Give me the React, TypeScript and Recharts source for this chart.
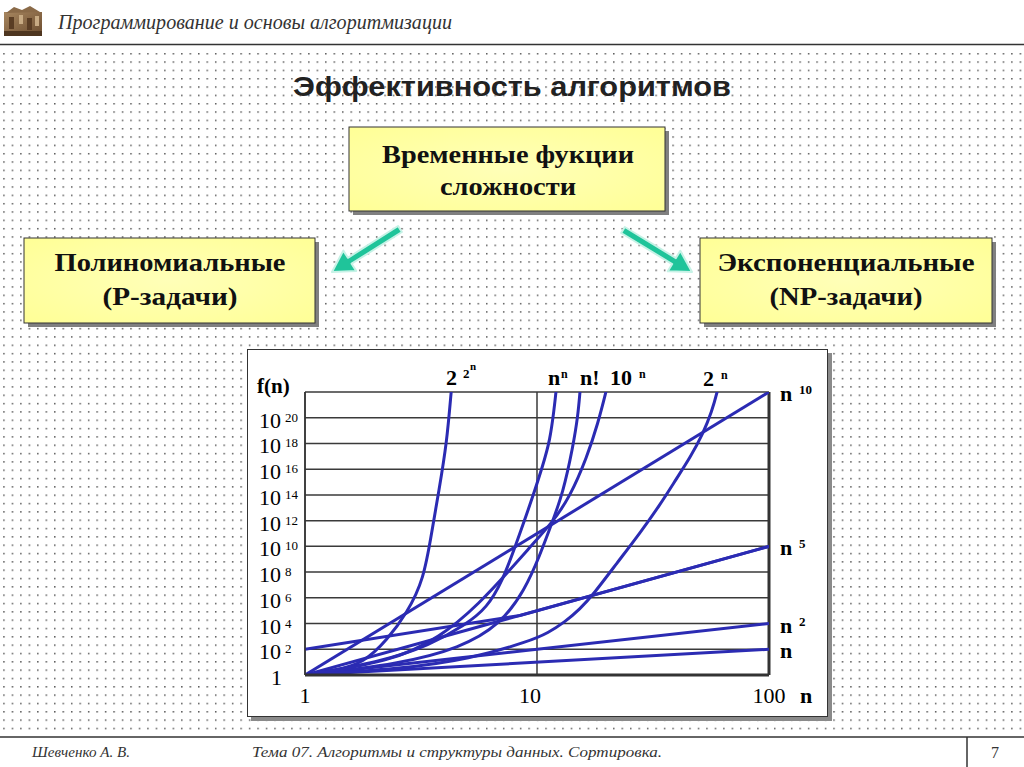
import React from 'react';
import { LineChart, Line, XAxis, YAxis, CartesianGrid, LabelList, ReferenceLine } from 'recharts';

// ---- axis ticks ----
const xTicks = [1, 10, 100];
const xTickLabels = ['1', '10', '100'];
// y values are exponents of 10 (f(n) = 10^e)
const yTicks = [0, 2, 4, 6, 8, 10, 12, 14, 16, 18, 20, 22];

// ---- series: n values and exponents of f(n) ----
const linN = [1, 100];
const linE = [0, 2];
const quadN = [1, 100];
const quadE = [0, 4];
const pow5N = [1, 100];
const pow5E = [0, 10];
const pow5OffsetN = [1, 8.45, 100];
const pow5OffsetE = [2, 4.63, 10];
const pow10N = [1, 100];
const pow10E = [0, 22];
const dblExpN = [1, 1.35, 1.79, 2.26, 2.75, 3.25, 3.53, 3.77, 4.09, 4.26, 4.37];
const dblExpE = [0, 0.35, 0.93, 2.72, 4.82, 7.39, 11.28, 14.23, 18.12, 21.93, 24];
const nPowNN = [1, 2.11, 3.46, 4.9, 6.09, 7.13, 8.04, 9.33, 10.62, 11.38, 11.84, 12.08, 12.25];
const nPowNE = [0, 1.01, 2.33, 3.89, 5.21, 7.39, 9.95, 13.22, 16.33, 18.27, 20.61, 22.0, 23.3];
const factN = [1, 2.57, 4.66, 6.93, 8.87, 10.3, 11.6, 12.94, 14.29, 15.03, 15.31, 15.56];
const factE = [0, 0.86, 2.1, 3.89, 6.61, 9.33, 11.82, 14.15, 17.73, 20.22, 22.0, 23.3];
const tenPowN = [1, 2.32, 3.82, 5.68, 7.65, 9.33, 11.6, 13.87, 16.43, 18.33, 19.82, 20.64];
const tenPowE = [0, 1.01, 2.88, 5.6, 8.17, 9.95, 11.82, 13.84, 16.95, 19.59, 22.0, 23.3];
const twoPowN = [1, 2.57, 5.14, 9.33, 11.15, 13.2, 15.31, 17.42, 22.13, 27.8, 33.88, 40.09, 45.6, 51.9, 56.8, 59.7, 62.1];
const twoPowE = [0, 0.47, 1.24, 2.64, 3.27, 4.12, 5.13, 6.22, 8.71, 11.04, 13.22, 15.32, 16.87, 18.74, 20.53, 21.93, 23.3];

const zip = (ns: number[], es: number[]) => ns.map((n, i) => ({ n, e: es[i] }));

const SERIF = '"Liberation Serif", "Times New Roman", serif';
const SANS = '"Liberation Sans", Arial, sans-serif';
const BLUE = '#2b2bb3';
const GRID = '#3a3a3a';

type Part = { t: string; dx: number; dy: number; size: number };

const labelIndex = (es: number[]) => {
  const i = es.findIndex((v) => v >= 21.9);
  return i < 0 ? es.length - 1 : i;
};

const makeLabel = (parts: Part[], idx: number) => (props: any) => {
  if (props.index !== idx) return null;
  const x = props.x ?? props.viewBox?.x;
  const y = props.y ?? props.viewBox?.y;
  if (x == null || y == null) return null;
  return (
    <g>
      {parts.map((p, i) => (
        <text key={i} x={x + p.dx} y={y + p.dy} fontSize={p.size} fontWeight="bold" fontFamily={SERIF} fill="#000">
          {p.t}
        </text>
      ))}
    </g>
  );
};

const rightParts = (sup: string): Part[] =>
  sup
    ? [
        { t: 'n', dx: 11, dy: 9, size: 22 },
        { t: sup, dx: 30, dy: 2, size: 13 },
      ]
    : [{ t: 'n', dx: 11, dy: 9, size: 22 }];

const series = [
  { key: 'lin', data: zip(linN, linE), type: 'linear', label: makeLabel(rightParts(''), linN.length - 1) },
  { key: 'quad', data: zip(quadN, quadE), type: 'linear', label: makeLabel(rightParts('2'), quadN.length - 1) },
  { key: 'p5', data: zip(pow5N, pow5E), type: 'linear', label: makeLabel(rightParts('5'), pow5N.length - 1) },
  { key: 'p5o', data: zip(pow5OffsetN, pow5OffsetE), type: 'linear', label: null },
  { key: 'p10', data: zip(pow10N, pow10E), type: 'linear', label: makeLabel(rightParts('10'), pow10N.length - 1) },
  {
    key: 'dbl',
    data: zip(dblExpN, dblExpE),
    type: 'basis',
    label: makeLabel(
      [
        { t: '2', dx: -5, dy: -8, size: 22 },
        { t: '2', dx: 12, dy: -15, size: 13 },
        { t: 'n', dx: 19, dy: -23, size: 11 },
      ],
      labelIndex(dblExpE)
    ),
  },
  {
    key: 'nn',
    data: zip(nPowNN, nPowNE),
    type: 'basis',
    label: makeLabel(
      [
        { t: 'n', dx: -8, dy: -7, size: 22 },
        { t: 'n', dx: 5, dy: -14, size: 12 },
      ],
      labelIndex(nPowNE)
    ),
  },
  {
    key: 'fact',
    data: zip(factN, factE),
    type: 'basis',
    label: makeLabel([{ t: 'n!', dx: 0, dy: -7, size: 22 }], labelIndex(factE)),
  },
  {
    key: 'ten',
    data: zip(tenPowN, tenPowE),
    type: 'basis',
    label: makeLabel(
      [
        { t: '10', dx: 4, dy: -7, size: 22 },
        { t: 'n', dx: 33, dy: -14, size: 12 },
      ],
      labelIndex(tenPowE)
    ),
  },
  {
    key: 'two',
    data: zip(twoPowN, twoPowE),
    type: 'basis',
    label: makeLabel(
      [
        { t: '2', dx: -14, dy: -7, size: 22 },
        { t: 'n', dx: 4, dy: -14, size: 12 },
      ],
      labelIndex(twoPowE)
    ),
  },
];

const YTick = (props: any) => {
  const { y, payload } = props;
  const v = payload?.value;
  if (v === 22) {
    return (
      <text x={10} y={y + 1} fontSize={21} fontWeight="bold" fontFamily={SERIF} fill="#000">
        f(n)
      </text>
    );
  }
  if (v === 0) {
    return (
      <text x={35} y={y + 10} fontSize={22} textAnchor="end" fontFamily={SERIF} fill="#000">
        1
      </text>
    );
  }
  return (
    <g>
      <text x={34} y={y + 10} fontSize={22} textAnchor="end" fontFamily={SERIF} fill="#000">
        10
      </text>
      <text x={38} y={y + 4} fontSize={13} fontFamily={SERIF} fill="#000">
        {v}
      </text>
    </g>
  );
};

const XTick = (props: any) => {
  const { x, payload } = props;
  const i = xTicks.indexOf(payload?.value);
  const label = i >= 0 ? xTickLabels[i] : String(payload?.value);
  return (
    <g>
      <text x={i === 1 ? x - 7 : x} y={354} fontSize={22} textAnchor="middle" fontFamily={SERIF} fill="#000">
        {label}
      </text>
      {i === xTicks.length - 1 && (
        <text x={x + 31} y={354} fontSize={22} fontWeight="bold" fontFamily={SERIF} fill="#000">
          n
        </text>
      )}
    </g>
  );
};

function arrowPoints(sx: number, sy: number, tx: number, ty: number, shaft = 3.5, head = 12, headLen = 21) {
  const dx = tx - sx;
  const dy = ty - sy;
  const L = Math.hypot(dx, dy);
  const ux = dx / L;
  const uy = dy / L;
  const px = -uy;
  const py = ux;
  const bx = tx - ux * headLen;
  const by = ty - uy * headLen;
  const pts = [
    [sx + px * shaft, sy + py * shaft],
    [bx + px * shaft, by + py * shaft],
    [bx + px * head, by + py * head],
    [tx, ty],
    [bx - px * head, by - py * head],
    [bx - px * shaft, by - py * shaft],
    [sx - px * shaft, sy - py * shaft],
  ];
  return pts.map((p) => `${p[0].toFixed(1)},${p[1].toFixed(1)}`).join(' ');
}

const YellowBox = ({ x, y, w, h, lines }: { x: number; y: number; w: number; h: number; lines: { t: string; cx: number; by: number; len: number }[] }) => (
  <g>
    <rect x={x + 4} y={y + 4} width={w} height={h} fill="#808080" />
    <rect x={x} y={y} width={w} height={h} fill="url(#yel)" stroke="#333" strokeWidth={1} />
    {lines.map((l, i) => (
      <text
        key={i}
        x={l.cx}
        y={l.by}
        textAnchor="middle"
        fontFamily={SERIF}
        fontWeight="bold"
        fontSize={26}
        fill="#111"
        textLength={l.len}
        lengthAdjust="spacingAndGlyphs"
      >
        {l.t}
      </text>
    ))}
  </g>
);

export default function App() {
  return (
    <div style={{ position: 'absolute', left: 0, top: 0, width: 1024, height: 767, overflow: 'hidden', background: '#fff' }}>
      <svg width={1024} height={767} style={{ position: 'absolute', left: 0, top: 0 }}>
        <defs>
          <pattern id="dots" x={3.2} y={3} width={8.47} height={8.33} patternUnits="userSpaceOnUse">
            <rect x={0} y={0} width={1.5} height={1.5} fill="#5a5a5a" />
          </pattern>
          <radialGradient id="yel" cx="50%" cy="50%" r="70%">
            <stop offset="0%" stopColor="#ffffb8" />
            <stop offset="100%" stopColor="#ffff96" />
          </radialGradient>
          <linearGradient id="brown" x1="0" y1="0" x2="1" y2="1">
            <stop offset="0%" stopColor="#a7865f" />
            <stop offset="100%" stopColor="#6b4c2f" />
          </linearGradient>
        </defs>
        <rect x={0} y={0} width={1024} height={767} fill="#fff" />
        <rect x={0} y={49} width={1024} height={684} fill="url(#dots)" />

        {/* header */}
        <g>
          <rect x={4} y={12} width={38} height={24} fill="url(#brown)" />
          <polygon points="6,13 14,7 22,10 30,6 40,12" fill="#8a6a48" />
          <rect x={9} y={17} width={5} height={12} fill="#5a3d24" />
          <rect x={19} y={15} width={4} height={9} fill="#c8ab84" />
          <rect x={27} y={18} width={5} height={12} fill="#5a3d24" />
          <rect x={35} y={16} width={4} height={10} fill="#c8ab84" />
          <rect x={4} y={31} width={38} height={5} fill="#4e3620" />
        </g>
        <text
          x={58}
          y={29}
          fontFamily={SERIF}
          fontStyle="italic"
          fontSize={20}
          fill="#333"
          textLength={394}
          lengthAdjust="spacingAndGlyphs"
        >
          Программирование и основы алгоритмизации
        </text>
        <line x1={0} y1={44.5} x2={1024} y2={44.5} stroke="#333" strokeWidth={1.5} />

        {/* title */}
        <text
          x={512}
          y={96}
          textAnchor="middle"
          fontFamily={SANS}
          fontWeight="bold"
          fontSize={28}
          fill="#222"
          textLength={438}
          lengthAdjust="spacingAndGlyphs"
        >
          Эффективность алгоритмов
        </text>

        <YellowBox
          x={349}
          y={127}
          w={316}
          h={84}
          lines={[
            { t: 'Временные фукции', cx: 508, by: 163, len: 252 },
            { t: 'сложности', cx: 508, by: 195, len: 136 },
          ]}
        />
        <YellowBox
          x={24}
          y={238}
          w={291}
          h={85}
          lines={[
            { t: 'Полиномиальные', cx: 170, by: 271, len: 231 },
            { t: '(P-задачи)', cx: 170, by: 305, len: 135 },
          ]}
        />
        <YellowBox
          x={700}
          y={238}
          w={292}
          h={85}
          lines={[
            { t: 'Экспоненциальные', cx: 846, by: 271, len: 257 },
            { t: '(NP-задачи)', cx: 846, by: 305, len: 153 },
          ]}
        />

        {/* arrows */}
        <polygon points={arrowPoints(400, 229, 332, 272)} fill="#1fc49a" stroke="#c6f2e6" strokeWidth={2} strokeLinejoin="round" />
        <polygon points={arrowPoints(623, 230, 692, 272)} fill="#1fc49a" stroke="#c6f2e6" strokeWidth={2} strokeLinejoin="round" />

        {/* chart frame */}
        <rect x={251} y={353} width={581} height={368} fill="#8a8a8a" />
        <rect x={247.5} y={349.5} width={580} height={367} fill="#fff" stroke="#333" strokeWidth={1} />

        {/* footer */}
        <line x1={0} y1={737} x2={1024} y2={737} stroke="#333" strokeWidth={1.5} />
        <line x1={967} y1={737} x2={967} y2={767} stroke="#333" strokeWidth={1.5} />
        <text x={32} y={757} fontFamily={SERIF} fontStyle="italic" fontSize={15} fill="#333" textLength={98} lengthAdjust="spacingAndGlyphs">
          Шевченко А. В.
        </text>
        <text x={252} y={757} fontFamily={SERIF} fontStyle="italic" fontSize={15} fill="#333" textLength={410} lengthAdjust="spacingAndGlyphs">
          Тема 07. Алгоритмы и структуры данных. Сортировка.
        </text>
        <text x={995} y={758} textAnchor="middle" fontFamily={SERIF} fontSize={16} fill="#333">
          7
        </text>
      </svg>

      <div style={{ position: 'absolute', left: 247, top: 349 }}>
        <LineChart width={583} height={369} margin={{ top: 43, right: 61, bottom: 0, left: 8 }}>
          <CartesianGrid stroke={GRID} strokeWidth={1.5} strokeDasharray="" />
          <XAxis
            type="number"
            dataKey="n"
            scale="log"
            domain={[1, 100]}
            ticks={xTicks}
            interval={0}
            allowDataOverflow
            height={43}
            tickLine={false}
            axisLine={{ stroke: '#333', strokeWidth: 3 }}
            tick={<XTick />}
          />
          <YAxis
            type="number"
            dataKey="e"
            domain={[0, 22]}
            ticks={yTicks}
            interval={0}
            allowDataOverflow
            width={50}
            tickLine={false}
            axisLine={{ stroke: '#333', strokeWidth: 1.5 }}
            tick={<YTick />}
          />
          <ReferenceLine x={100} stroke="#333" strokeWidth={3} />
          {series.map((s) => (
            <Line
              key={s.key}
              data={s.data}
              dataKey="e"
              type={s.type as any}
              stroke={BLUE}
              strokeWidth={3}
              dot={false}
              activeDot={false}
              isAnimationActive={false}
            >
              {s.label && <LabelList dataKey="e" content={s.label} />}
            </Line>
          ))}
        </LineChart>
      </div>
    </div>
  );
}
